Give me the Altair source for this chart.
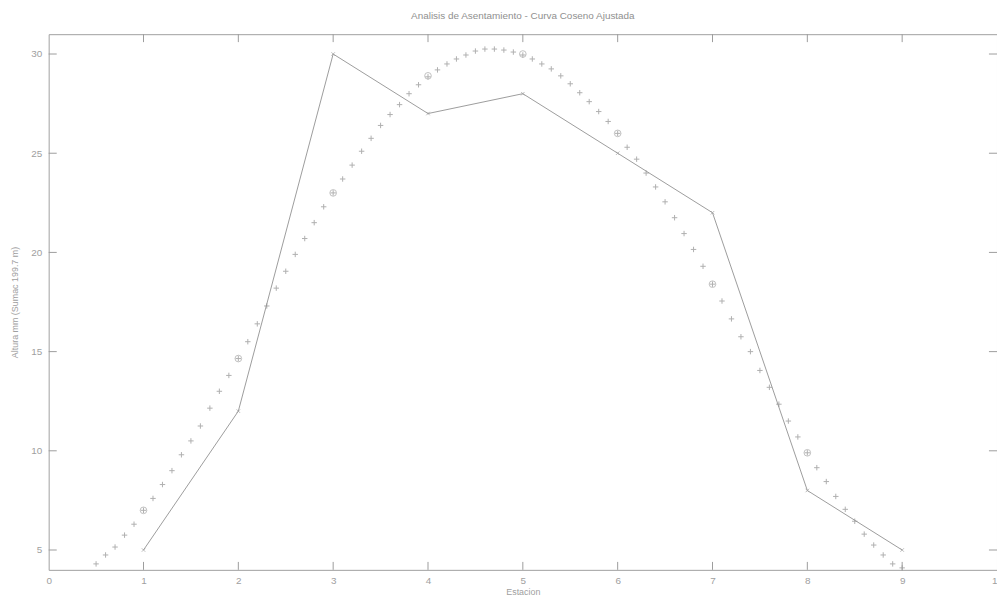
import altair as alt
import pandas as pd

# Measured data (solid line)
est = [1, 2, 3, 4, 5, 6, 7, 8, 9]
altura = [5, 12, 30, 27, 28, 25, 22, 8, 5]

# Fitted cosine curve ('+' markers)
fit_x = [0.5, 0.6, 0.7, 0.8, 0.9, 1.0, 1.1, 1.2, 1.3, 1.4,
         1.5, 1.6, 1.7, 1.8, 1.9, 2.0, 2.1, 2.2, 2.3, 2.4,
         2.5, 2.6, 2.7, 2.8, 2.9, 3.0, 3.1, 3.2, 3.3, 3.4,
         3.5, 3.6, 3.7, 3.8, 3.9, 4.0, 4.1, 4.2, 4.3, 4.4,
         4.5, 4.6, 4.7, 4.8, 4.9, 5.0, 5.1, 5.2, 5.3, 5.4,
         5.5, 5.6, 5.7, 5.8, 5.9, 6.0, 6.1, 6.2, 6.3, 6.4,
         6.5, 6.6, 6.7, 6.8, 6.9, 7.0, 7.1, 7.2, 7.3, 7.4,
         7.5, 7.6, 7.7, 7.8, 7.9, 8.0, 8.1, 8.2, 8.3, 8.4,
         8.5, 8.6, 8.7, 8.8, 8.9, 9.0]
fit_y = [4.3, 4.75, 5.15, 5.75, 6.3, 7.0, 7.6, 8.3, 9.0, 9.8,
         10.5, 11.25, 12.15, 13.0, 13.8, 14.65, 15.5, 16.4, 17.3, 18.2,
         19.05, 19.9, 20.7, 21.5, 22.3, 23.0, 23.7, 24.4, 25.1, 25.75,
         26.4, 26.95, 27.45, 28.0, 28.45, 28.85, 29.2, 29.5, 29.75, 29.95,
         30.15, 30.25, 30.25, 30.2, 30.1, 29.95, 29.75, 29.5, 29.25, 28.9,
         28.5, 28.05, 27.6, 27.1, 26.6, 26.0, 25.3, 24.7, 24.0, 23.3,
         22.55, 21.75, 20.95, 20.15, 19.3, 18.4, 17.55, 16.65, 15.75, 15.0,
         14.05, 13.2, 12.35, 11.5, 10.7, 9.9, 9.15, 8.45, 7.7, 7.05,
         6.45, 5.8, 5.25, 4.75, 4.3, 4.1]

# Fit evaluated at the stations (circle markers)
circ_x = [1, 2, 3, 4, 5, 6, 7, 8]
circ_y = [7.0, 14.65, 23.0, 28.9, 30.0, 26.0, 18.4, 9.9]

x_ticks = [0, 1, 2, 3, 4, 5, 6, 7, 8, 9, 10]
y_ticks = [5, 10, 15, 20, 25, 30]
x_dom = [0, 10]
y_dom = [4, 31]

GRAY = "#9c9c9c"
TXT = "#a0a0a0"
FONT = "Liberation Sans"

xs = alt.Scale(domain=x_dom, nice=False, zero=False)
ys = alt.Scale(domain=y_dom, nice=False, zero=False)

df_line = pd.DataFrame({"x": est, "y": altura})
df_fit = pd.DataFrame({"x": fit_x, "y": fit_y})
df_circ = pd.DataFrame({"x": circ_x, "y": circ_y})

xaxis = alt.Axis(values=x_ticks, format="d", ticks=False, domain=False, grid=False,
                 labelFlush=False, labelOverlap=False,
                 labelColor=TXT, labelFontSize=10, labelFont=FONT, labelPadding=6,
                 title="Estacion", titleColor=TXT, titleFontSize=9, titleFont=FONT,
                 titleFontWeight="normal", titlePadding=2)
yaxis = alt.Axis(values=y_ticks, format="d", ticks=False, domain=False, grid=False,
                 labelColor=TXT, labelFontSize=10, labelFont=FONT, labelPadding=7,
                 title="Altura mm (Sumac 199.7 m)", titleColor=TXT, titleFontSize=9,
                 titleFont=FONT, titleFontWeight="normal", titlePadding=11)

line = alt.Chart(df_line).mark_line(color=GRAY, strokeWidth=1).encode(
    x=alt.X("x:Q", scale=xs, axis=xaxis),
    y=alt.Y("y:Q", scale=ys, axis=yaxis),
)
line_pts = alt.Chart(df_line).mark_point(
    shape="M-1,-1L1,1M-1,1L1,-1", filled=False, color=GRAY, size=12, strokeWidth=1
).encode(x=alt.X("x:Q", scale=xs), y=alt.Y("y:Q", scale=ys))

fit = alt.Chart(df_fit).mark_point(
    shape="M-1,0L1,0M0,-1L0,1", filled=False, color="#8f8f8f", size=30, strokeWidth=1
).encode(x=alt.X("x:Q", scale=xs), y=alt.Y("y:Q", scale=ys))

circ = alt.Chart(df_circ).mark_point(
    shape="circle", filled=False, color="#a8a8a8", size=45, strokeWidth=1
).encode(x=alt.X("x:Q", scale=xs), y=alt.Y("y:Q", scale=ys))

# Inner ticks (MATLAB style) on all four sides
bx = [v for v in x_ticks if 0 < v < 10]
tk_bottom = pd.DataFrame({"x": bx, "y": [y_dom[0]] * len(bx), "y2": [y_dom[0] + 0.4] * len(bx)})
tk_top = pd.DataFrame({"x": bx, "y": [y_dom[1]] * len(bx), "y2": [y_dom[1] - 0.4] * len(bx)})
tk_left = pd.DataFrame({"y": y_ticks, "x": [x_dom[0]] * len(y_ticks), "x2": [x_dom[0] + 0.085] * len(y_ticks)})
tk_right = pd.DataFrame({"y": y_ticks, "x": [x_dom[1]] * len(y_ticks), "x2": [x_dom[1] - 0.085] * len(y_ticks)})

def vt(d):
    return alt.Chart(d).mark_rule(color=GRAY, strokeWidth=1).encode(
        x=alt.X("x:Q", scale=xs), y=alt.Y("y:Q", scale=ys), y2="y2:Q")

def ht(d):
    return alt.Chart(d).mark_rule(color=GRAY, strokeWidth=1).encode(
        y=alt.Y("y:Q", scale=ys), x=alt.X("x:Q", scale=xs), x2="x2:Q")

chart = alt.layer(
    line, line_pts, fit, circ, vt(tk_bottom), vt(tk_top), ht(tk_left), ht(tk_right)
).properties(
    width=956, height=540,
    title=alt.TitleParams("Analisis de Asentamiento - Curva Coseno Ajustada",
                          fontSize=10, font=FONT, color="#8f8f8f",
                          fontWeight="normal", offset=13, anchor="middle"),
    padding={"left": 41, "top": 24, "right": 0, "bottom": 28},
    autosize=alt.AutoSizeParams(type="none"),
    background="white",
).configure_view(stroke="#a0a0a0", strokeWidth=1)

chart.save("out.html", embed_options={"renderer": "svg", "actions": False})
